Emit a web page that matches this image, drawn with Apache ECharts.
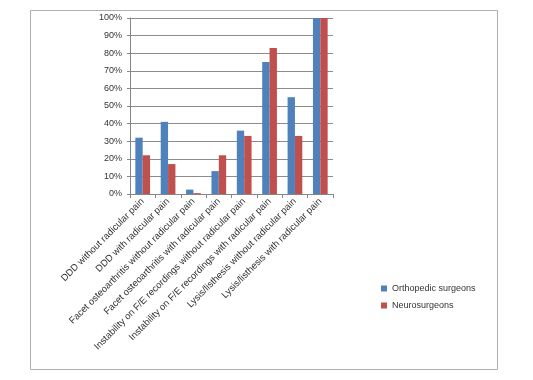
<!DOCTYPE html>
<html>
<head>
<meta charset="utf-8">
<script src="https://cdn.jsdelivr.net/npm/echarts@6/dist/echarts.min.js"></script>
<style>html,body{margin:0;padding:0;background:#fff}#c{width:533px;height:380px}</style>
</head>
<body>
<div id="c"></div>
<script>
const categories = [
  "DDD without radicular pain",
  "DDD with radicular pain",
  "Facet osteoarthritis without radicular pain",
  "Facet osteoarthritis with radicular pain",
  "Instability on F/E recordings without radicular pain",
  "Instability on F/E recordings with radicular pain",
  "Lysis/listhesis without radicular pain",
  "Lysis/listhesis with radicular pain"
];
const orthopedic = [32, 41, 2.5, 13, 36, 75, 55, 100];
const neuro = [22, 17, 0.5, 22, 33, 83, 33, 100];
const seriesNames = ["Orthopedic surgeons", "Neurosurgeons"];

const chart = echarts.init(document.getElementById('c'));
const font = "'Liberation Sans', Arial, sans-serif";
chart.setOption({
  animation: false,
  graphic: [{
    type: 'rect', left: 28, top: 8, shape: {width: 467, height: 359},
    style: {fill: 'none', stroke: '#b0b0b0', lineWidth: 1}
  }],
  legend: {
    orient: 'vertical', left: 376, top: 279, itemWidth: 6, itemHeight: 6, itemGap: 8,
    icon: 'rect',
    textStyle: {fontFamily: font, fontSize: 9, color: '#333'},
    data: seriesNames
  },
  grid: {left: 130, right: 200, top: 18, bottom: 186},
  xAxis: {
    type: 'category', data: categories,
    axisLine: {lineStyle: {color: '#868686'}},
    axisTick: {show: true, length: 4, lineStyle: {color: '#868686'}},
    axisLabel: {rotate: 45, interval: 0, fontFamily: font, fontSize: 9.5, color: '#333', margin: 6}
  },
  yAxis: {
    type: 'value', min: 0, max: 100, interval: 10,
    axisLine: {show: true, lineStyle: {color: '#868686'}},
    axisTick: {show: true, length: 3, lineStyle: {color: '#868686'}},
    splitLine: {lineStyle: {color: '#8c8c8c'}},
    axisLabel: {formatter: '{value}%', fontFamily: font, fontSize: 9, color: '#333', margin: 8}
  },
  series: [
    {name: seriesNames[0], type: 'bar', data: orthopedic, itemStyle: {color: '#4F81BD'}, barGap: '0%', barCategoryGap: '42%'},
    {name: seriesNames[1], type: 'bar', data: neuro, itemStyle: {color: '#C0504D'}, barGap: '0%', barCategoryGap: '42%'}
  ]
});
</script>
</body>
</html>
